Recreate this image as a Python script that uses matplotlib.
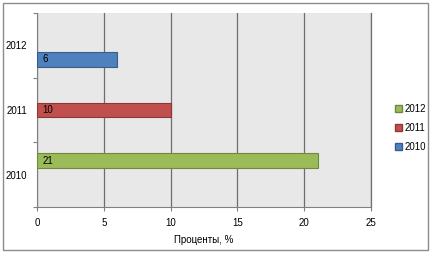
import matplotlib.pyplot as plt
from matplotlib.patches import Patch, Rectangle

plt.rcParams['font.family'] = ['Liberation Sans', 'DejaVu Sans']

# Data
categories = ["2010", "2011", "2012"]
series_names = ["2012", "2011", "2010"]
series_values = [
    [21, None, None],   # green
    [None, 10, None],   # red
    [None, None, 6],    # blue
]
colors = ["#9bbb59", "#c0504d", "#4f81bd"]
edges = ["#71893f", "#8c3836", "#385d8a"]
offsets = [0.22, 0.0, -0.22]
bar_h = 0.23

fig = plt.figure(figsize=(4.31, 2.57), dpi=100)
ax = fig.add_axes([37/431, 1 - 207.3/257, (371 - 37)/431, (207.3 - 12.7)/257])
ax.set_facecolor("#e8e8e8")

for vals, c, ec, off in zip(series_values, colors, edges, offsets):
    for i, v in enumerate(vals):
        if v is None:
            continue
        ax.barh(i + off, v, height=bar_h, color=c, edgecolor=ec, linewidth=0.8, zorder=3)
        ax.text(0.4, i + off, str(v), va="center", ha="left", fontsize=7, zorder=4)

ax.set_xlim(0, 25)
ax.set_xticks(range(0, 26, 5))
ax.set_ylim(-0.5, 2.5)
ax.set_yticks([-0.5, 0.5, 1.5, 2.5])
ax.set_yticklabels([])
ax.set_yticks(range(len(categories)), minor=True)
ax.set_yticklabels(categories, minor=True)
ax.tick_params(axis="y", which="minor", length=0, labelsize=7, pad=7)
ax.tick_params(axis="y", which="major", length=3, color="#808080")
ax.tick_params(axis="x", length=3, color="#808080", labelsize=7, pad=5)

ax.grid(axis="x", color="#6e6e6e", linewidth=0.9, zorder=1)
ax.axvline(25, color="#6e6e6e", linewidth=0.9, zorder=1, clip_on=False)
ax.set_axisbelow(True)
for s in ["top", "right"]:
    ax.spines[s].set_visible(False)
for s in ["left", "bottom"]:
    ax.spines[s].set_color("#808080")
ax.set_xlabel("Проценты, %", fontsize=7, labelpad=5)

handles = [Patch(facecolor=c, edgecolor=ec) for c, ec in zip(colors, edges)]
fig.legend(handles, series_names, loc="center left", bbox_to_anchor=(386/431, 1 - 128/257),
           frameon=False, fontsize=7, handlelength=0.7, handleheight=0.7,
           handletextpad=0.3, labelspacing=0.95)

# chart border
fig.patches.append(Rectangle((3/431, 1 - 250/257), 425/431, 247/257, transform=fig.transFigure,
                             fill=False, edgecolor="#8c8c8c", linewidth=1))

fig.savefig("out.png", dpi=100)
